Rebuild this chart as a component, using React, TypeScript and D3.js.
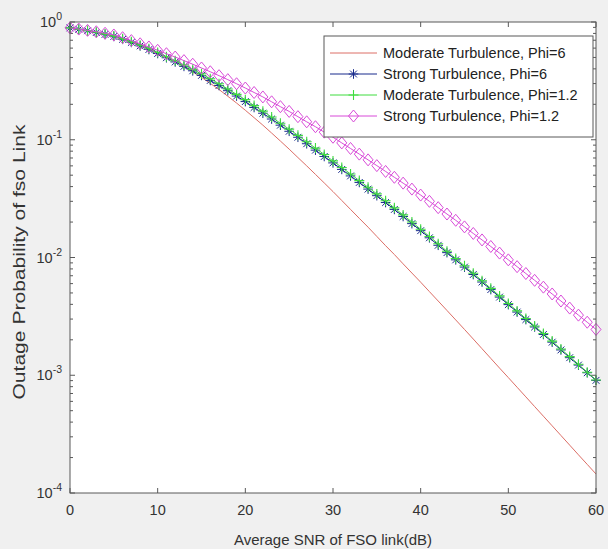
import React from "react";
import * as d3 from "d3";

// SNR in dB, one sample per dB
const snr = d3.range(0, 61);

// Moderate Turbulence, Phi=6 (plain line)
const moderatePhi6 = [
  0.891, 0.869, 0.845, 0.818, 0.789, 0.759, 0.721, 0.682, 0.64, 0.594,
  0.55, 0.504, 0.459, 0.417, 0.377, 0.339, 0.301, 0.267, 0.234, 0.205,
  0.178, 0.154, 0.133, 0.114, 0.0975, 0.0832, 0.0706, 0.06, 0.0508, 0.043,
  0.0363, 0.0305, 0.0256, 0.0215, 0.0181, 0.0151, 0.0126, 0.0106, 0.00883, 0.00738,
  0.00617, 0.00513, 0.00427, 0.00355, 0.00295, 0.00245, 0.00203, 0.00168, 0.00139, 0.00115,
  0.000955, 0.000791, 0.000655, 0.000542, 0.000449, 0.000372, 0.000308, 0.000255, 0.000211, 0.000175,
  0.000145,
];

// Strong Turbulence, Phi=6 (asterisks)
const strongPhi6 = [
  0.891, 0.868, 0.843, 0.815, 0.785, 0.754, 0.713, 0.671, 0.627, 0.584,
  0.54, 0.497, 0.458, 0.42, 0.385, 0.352, 0.319, 0.289, 0.261, 0.235,
  0.211, 0.188, 0.168, 0.15, 0.133, 0.118, 0.105, 0.0925, 0.0816, 0.0721,
  0.0636, 0.056, 0.0493, 0.0434, 0.0381, 0.0335, 0.0293, 0.0256, 0.0223, 0.0194,
  0.0169, 0.0147, 0.0127, 0.011, 0.00955, 0.00829, 0.00717, 0.00619, 0.00534, 0.00461,
  0.00398, 0.00344, 0.00297, 0.00257, 0.00222, 0.00191, 0.00164, 0.00141, 0.00122, 0.00105,
  0.000905,
];

// Moderate Turbulence, Phi=1.2 (plus signs)
const moderatePhi12 = [
  0.891, 0.869, 0.845, 0.818, 0.789, 0.759, 0.719, 0.678, 0.635, 0.593,
  0.55, 0.508, 0.469, 0.432, 0.396, 0.363, 0.33, 0.299, 0.27, 0.243,
  0.219, 0.195, 0.175, 0.156, 0.138, 0.123, 0.109, 0.0962, 0.0849, 0.075,
  0.0661, 0.0582, 0.0512, 0.045, 0.0395, 0.0347, 0.0303, 0.0264, 0.023, 0.02,
  0.0174, 0.0151, 0.0131, 0.0113, 0.00982, 0.00851, 0.00735, 0.00634, 0.00547, 0.00472,
  0.00407, 0.00352, 0.00303, 0.00262, 0.00226, 0.00195, 0.00167, 0.00144, 0.00124, 0.00106,
  0.000912,
];

// Strong Turbulence, Phi=1.2 (diamonds)
const strongPhi12 = [
  0.891, 0.871, 0.849, 0.826, 0.802, 0.776, 0.736, 0.695, 0.653, 0.614,
  0.575, 0.538, 0.504, 0.47, 0.438, 0.407, 0.378, 0.35, 0.324, 0.299,
  0.275, 0.252, 0.231, 0.21, 0.191, 0.174, 0.157, 0.142, 0.129, 0.116,
  0.105, 0.094, 0.0843, 0.0755, 0.0675, 0.0603, 0.0538, 0.048, 0.0428, 0.0381,
  0.0339, 0.03, 0.0265, 0.0234, 0.0207, 0.0182, 0.016, 0.0141, 0.0124, 0.0109,
  0.00955, 0.00836, 0.00731, 0.0064, 0.0056, 0.0049, 0.00427, 0.00372, 0.00324, 0.00282,
  0.00245,
];

const xTicks = [0, 10, 20, 30, 40, 50, 60];
const yExponents = [0, -1, -2, -3, -4];

const series = [
  { name: "Moderate Turbulence, Phi=6", values: moderatePhi6, color: "#dc6e66", marker: "none" },
  { name: "Strong Turbulence, Phi=6", values: strongPhi6, color: "#182a8c", marker: "star" },
  { name: "Moderate Turbulence, Phi=1.2", values: moderatePhi12, color: "#3fdc3f", marker: "plus" },
  { name: "Strong Turbulence, Phi=1.2", values: strongPhi12, color: "#d84ad8", marker: "diamond" },
];

const W = 608;
const H = 549;
const L = 70, R = 596, T = 22, B = 493;
const axisColor = "#595959";
const textColor = "#333";
const font = "'Liberation Sans', Arial, sans-serif";

const Marker = ({ kind, cx, cy, color }) => {
  if (kind === "star") {
    const r = 4.8, d = 3.4;
    return (
      <path
        d={`M${cx - r},${cy}H${cx + r}M${cx},${cy - r}V${cy + r}M${cx - d},${cy - d}L${cx + d},${cy + d}M${cx - d},${cy + d}L${cx + d},${cy - d}`}
        stroke={color}
        strokeWidth={1}
        fill="none"
      />
    );
  }
  if (kind === "plus") {
    const r = 5;
    return (
      <path
        d={`M${cx - r},${cy}H${cx + r}M${cx},${cy - r}V${cy + r}`}
        stroke={color}
        strokeWidth={1.1}
        fill="none"
      />
    );
  }
  if (kind === "diamond") {
    const rx = 5, ry = 6;
    return (
      <path
        d={`M${cx},${cy - ry}L${cx + rx},${cy}L${cx},${cy + ry}L${cx - rx},${cy}Z`}
        stroke={color}
        strokeWidth={1}
        fill="none"
      />
    );
  }
  return null;
};

export default function App() {
  const x = d3.scaleLinear().domain([0, 60]).range([L, R]);
  const y = d3.scaleLog().domain([1e-4, 1]).range([B, T]);
  const line = d3
    .line<number>()
    .x((_, i) => x(snr[i]))
    .y((d) => y(d));

  const minor = y.ticks().filter((t) => !yExponents.some((e) => Math.abs(t - Math.pow(10, e)) < 1e-12));

  const legendX = 324, legendY = 36, legendW = 269, legendH = 101;
  const rowY = [53, 74, 95, 116];

  return (
    <div style={{ position: "absolute", left: 0, top: 0 }}>
      <svg width={W} height={H} style={{ display: "block" }} fontFamily={font}>
        <rect x={0} y={0} width={W} height={H} fill="#f0f0f0" />
        <rect x={L} y={T} width={R - L} height={B - T} fill="#ffffff" />

        {/* ticks */}
        {xTicks.map((t) => (
          <g key={"xt" + t}>
            <line x1={x(t)} x2={x(t)} y1={B} y2={B - 5} stroke={axisColor} />
            <line x1={x(t)} x2={x(t)} y1={T} y2={T + 5} stroke={axisColor} />
            <text
              x={x(t)}
              y={515}
              textAnchor="middle"
              fontSize={14.5}
              fill={textColor}
            >
              {t}
            </text>
          </g>
        ))}
        {minor.map((t, i) => (
          <g key={"ym" + i}>
            <line x1={L} x2={L + 3} y1={y(t)} y2={y(t)} stroke={axisColor} />
            <line x1={R} x2={R - 3} y1={y(t)} y2={y(t)} stroke={axisColor} />
          </g>
        ))}
        {yExponents.map((e) => (
          <g key={"ye" + e}>
            <line x1={L} x2={L + 5} y1={y(Math.pow(10, e))} y2={y(Math.pow(10, e))} stroke={axisColor} />
            <line x1={R} x2={R - 5} y1={y(Math.pow(10, e))} y2={y(Math.pow(10, e))} stroke={axisColor} />
            <text x={62} y={y(Math.pow(10, e)) + 5} textAnchor="end" fontSize={14.5} fill={textColor}>
              10
              <tspan dy={-7} fontSize={10.5}>
                {e}
              </tspan>
            </text>
          </g>
        ))}

        {/* curves */}
        {series.map((s) => (
          <g key={s.name}>
            <path d={line(s.values)} fill="none" stroke={s.color} strokeWidth={1} />
            {s.marker !== "none" &&
              s.values.map((v, i) => (
                <Marker key={i} kind={s.marker} cx={x(snr[i])} cy={y(v)} color={s.color} />
              ))}
          </g>
        ))}

        {/* axes box */}
        <rect x={L} y={T} width={R - L} height={B - T} fill="none" stroke={axisColor} strokeWidth={1} />

        {/* axis labels */}
        <text x={(L + R) / 2} y={545} textAnchor="middle" fontSize={15} fill={textColor}>
          Average SNR of FSO link(dB)
        </text>
        <text
          transform={`translate(25, 262) rotate(-90) scale(1.24, 1)`}
          textAnchor="middle"
          fontSize={17}
          fill={textColor}
        >
          Outage Probability of fso Link
        </text>

        {/* legend */}
        <rect x={legendX} y={legendY} width={legendW} height={legendH} fill="#fff" stroke={axisColor} strokeWidth={1} />
        {series.map((s, i) => (
          <g key={"lg" + i}>
            <line x1={330} x2={377} y1={rowY[i]} y2={rowY[i]} stroke={s.color} strokeWidth={1} />
            <Marker kind={s.marker} cx={353.5} cy={rowY[i]} color={s.color} />
            <text x={383} y={rowY[i] + 5} fontSize={14.5} fill="#222">
              {s.name}
            </text>
          </g>
        ))}
      </svg>
    </div>
  );
}
